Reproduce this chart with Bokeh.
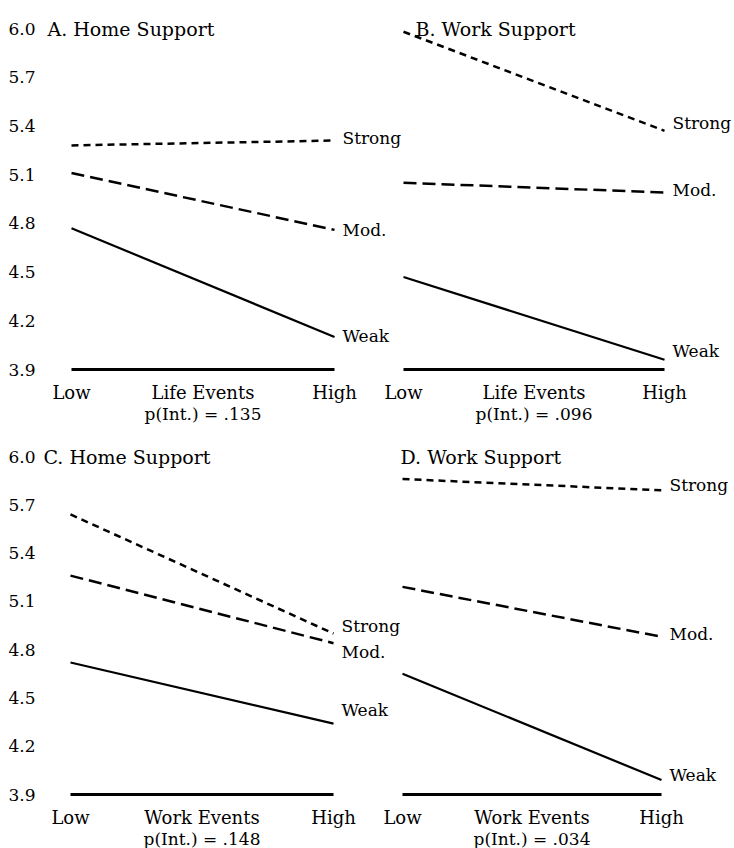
from bokeh.plotting import figure
from bokeh.models import Range1d
from bokeh.core.properties import value
from bokeh.embed import file_html
from bokeh.resources import INLINE

# Mean score at low and high stressful events, for each level of support
panel_titles = ["A. Home Support", "B. Work Support", "C. Home Support", "D. Work Support"]
event_names = ["Life Events", "Life Events", "Work Events", "Work Events"]
p_interaction = [".135", ".096", ".148", ".034"]

strong_low = [5.28, 5.98, 5.64, 5.86]
strong_high = [5.31, 5.37, 4.90, 5.79]
mod_low = [5.11, 5.05, 5.26, 5.19]
mod_high = [4.76, 4.99, 4.84, 4.88]
weak_low = [4.77, 4.47, 4.72, 4.65]
weak_high = [4.10, 3.96, 4.34, 3.99]

support_levels = ["Strong", "Mod.", "Weak"]
event_levels = [0, 1]            # Low, High
event_tick_labels = ["Low", "High"]
y_ticks = [3.9, 4.2, 4.5, 4.8, 5.1, 5.4, 5.7, 6.0]

# ---- layout / styling -------------------------------------------------------
W, H = 734, 848
FONT = value("DejaVu Serif")
# screen placement of each panel: x of Low, x of High, y of the floor, y of the top tick
panel_box = [
    (71, 334, 369, 28),
    (403, 664, 369, 28),
    (70, 333, 794, 456),
    (402, 661, 794, 456),
]
title_dx = [-24, 12, -27, -2]
label_dy = [(-3, 0, -1), (-8, -3, -9), (-8, 9, -14), (-5, -3, -5)]
show_y_labels = [True, False, True, False]
line_style = {
    "Strong": dict(line_dash="7 5", line_width=2.5),
    "Mod.": dict(line_dash="13 6", line_width=2.5),
    "Weak": dict(line_dash="solid", line_width=2.2),
}

series = {
    "Strong": (strong_low, strong_high),
    "Mod.": (mod_low, mod_high),
    "Weak": (weak_low, weak_high),
}

p = figure(width=W, height=H, x_range=Range1d(0, 1), y_range=Range1d(0, 1),
           x_axis_type=None, y_axis_type=None, min_border=0,
           toolbar_location=None, output_backend="svg")
p.outline_line_color = None
p.background_fill_color = "white"
p.border_fill_color = "white"

x_ranges, y_ranges = {}, {}
for i, (x0, x1, yfloor, ytop) in enumerate(panel_box):
    sx = x1 - x0
    x_ranges[f"x{i}"] = Range1d(-x0 / sx, (W - x0) / sx)
    sy = (yfloor - ytop) / (y_ticks[-1] - y_ticks[0])
    y_ranges[f"y{i}"] = Range1d(y_ticks[0] - (H - yfloor) / sy, y_ticks[-1] + ytop / sy)
p.extra_x_ranges = x_ranges
p.extra_y_ranges = y_ranges

for i, (x0, x1, yfloor, ytop) in enumerate(panel_box):
    rn = dict(x_range_name=f"x{i}", y_range_name=f"y{i}")
    floor = y_ticks[0]

    # floor line of the panel
    p.line(x=event_levels, y=[floor, floor], line_color="black", line_width=3, **rn)

    # one line per support level, labelled at its right end
    for k, level in enumerate(support_levels):
        lo, hi = series[level]
        p.line(x=event_levels, y=[lo[i], hi[i]], line_color="black", **line_style[level], **rn)
        p.text(x=[event_levels[-1]], y=[hi[i]], text=[level], x_offset=8, y_offset=label_dy[i][k],
               text_font=FONT, text_font_size="17px", text_color="black",
               text_align="left", text_baseline="middle", **rn)

    # panel title on the line of the top tick
    p.text(x=[event_levels[0]], y=[y_ticks[-1]], text=[panel_titles[i]], x_offset=title_dx[i],
           text_font=FONT, text_font_size="19px", text_color="black",
           text_align="left", text_baseline="alphabetic", **rn)

    # vertical scale
    if show_y_labels[i]:
        p.text(x=[event_levels[0]] * len(y_ticks), y=y_ticks, text=[f"{t:.1f}" for t in y_ticks],
               x_offset=35 - x0, text_font=FONT, text_font_size="17px", text_color="black",
               text_align="right", text_baseline="alphabetic", **rn)

    # event axis labels
    mid = (event_levels[0] + event_levels[-1]) / 2
    p.text(x=[event_levels[0], mid, event_levels[-1]], y=[floor] * 3,
           text=[event_tick_labels[0], event_names[i], event_tick_labels[1]], y_offset=23,
           text_font=FONT, text_font_size="18px", text_color="black",
           text_align="center", text_baseline="alphabetic", **rn)
    p.text(x=[mid], y=[floor], text=[f"p(Int.) = {p_interaction[i]}"], y_offset=44,
           text_font=FONT, text_font_size="17px", text_color="black",
           text_align="center", text_baseline="alphabetic", **rn)

open("out.html", "w").write(file_html(p, INLINE))
